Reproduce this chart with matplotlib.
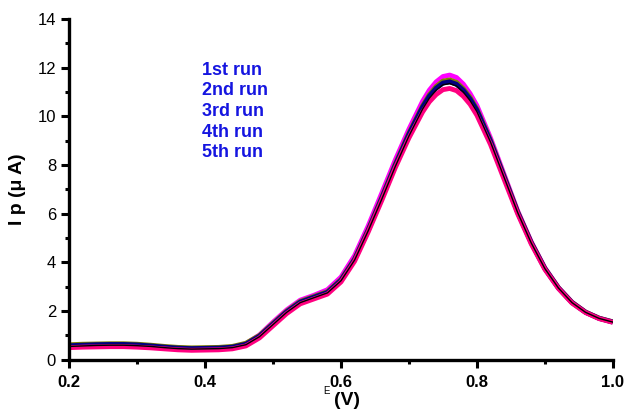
import matplotlib
matplotlib.use('Agg')
import matplotlib.pyplot as plt
from matplotlib.ticker import MultipleLocator

plt.rcParams['font.family'] = ['Liberation Sans', 'DejaVu Sans']

# potential (V), every 0.02 V, every 0.01 V around the peak
potential = [0.20, 0.22, 0.24, 0.26, 0.28, 0.30, 0.32, 0.34, 0.36, 0.38,
             0.40, 0.42, 0.44, 0.46, 0.48, 0.50, 0.52, 0.54, 0.56, 0.58,
             0.60, 0.62, 0.64, 0.66, 0.68, 0.70, 0.72, 0.73, 0.74, 0.75,
             0.76, 0.77, 0.78, 0.79, 0.80, 0.82, 0.84, 0.86, 0.88, 0.90,
             0.92, 0.94, 0.96, 0.98, 1.00]

run1 = [0.55, 0.57, 0.59, 0.60, 0.60, 0.58, 0.55, 0.50, 0.46, 0.44,
        0.45, 0.46, 0.50, 0.62, 0.95, 1.45, 1.95, 2.35, 2.55, 2.75,
        3.25, 4.10, 5.30, 6.60, 7.95, 9.20, 10.30, 10.75, 11.08, 11.30,
        11.35, 11.25, 11.00, 10.65, 10.20, 8.95, 7.50, 6.05, 4.80, 3.75,
        2.95, 2.35, 1.95, 1.70, 1.55]
run2 = [0.62, 0.64, 0.65, 0.66, 0.66, 0.64, 0.60, 0.55, 0.51, 0.49,
        0.50, 0.51, 0.55, 0.68, 1.00, 1.50, 2.00, 2.40, 2.60, 2.80,
        3.30, 4.15, 5.35, 6.68, 8.05, 9.32, 10.43, 10.89, 11.23, 11.45,
        11.50, 11.40, 11.14, 10.78, 10.30, 9.02, 7.55, 6.08, 4.82, 3.76,
        2.96, 2.36, 1.96, 1.71, 1.56]
run3 = [0.58, 0.60, 0.62, 0.63, 0.63, 0.61, 0.57, 0.52, 0.48, 0.46,
        0.47, 0.48, 0.52, 0.64, 0.97, 1.47, 1.97, 2.37, 2.57, 2.77,
        3.27, 4.12, 5.32, 6.64, 8.00, 9.27, 10.38, 10.83, 11.16, 11.37,
        11.42, 11.32, 11.07, 10.71, 10.25, 8.98, 7.52, 6.06, 4.81, 3.75,
        2.95, 2.35, 1.95, 1.70, 1.55]
run4 = [0.56, 0.58, 0.60, 0.61, 0.61, 0.59, 0.56, 0.51, 0.47, 0.45,
        0.46, 0.47, 0.51, 0.66, 1.02, 1.55, 2.05, 2.45, 2.65, 2.88,
        3.40, 4.28, 5.50, 6.85, 8.22, 9.48, 10.62, 11.08, 11.42, 11.64,
        11.70, 11.60, 11.33, 10.94, 10.45, 9.12, 7.62, 6.12, 4.85, 3.78,
        2.97, 2.37, 1.96, 1.71, 1.56]
run5 = [0.50, 0.52, 0.53, 0.54, 0.54, 0.52, 0.49, 0.45, 0.41, 0.39,
        0.40, 0.41, 0.45, 0.57, 0.90, 1.40, 1.90, 2.30, 2.50, 2.70,
        3.20, 4.05, 5.25, 6.55, 7.90, 9.12, 10.18, 10.60, 10.90, 11.10,
        11.15, 11.06, 10.83, 10.50, 10.05, 8.85, 7.42, 6.00, 4.76, 3.72,
        2.93, 2.33, 1.94, 1.69, 1.54]

run_labels = ['1st run', '2nd run', '3rd run', '4th run', '5th run']

fig = plt.figure(figsize=(6.24, 4.15), dpi=100)
ax = fig.add_axes([0.111, 0.133, 0.871, 0.821])

ax.plot(potential, run4, color='#ff00ff', lw=3.5, solid_capstyle='butt')
ax.plot(potential, run2, color='#808000', lw=3.5, solid_capstyle='butt')
ax.plot(potential, run3, color='#000080', lw=3.5, solid_capstyle='butt')
ax.plot(potential, run5, color='#ff0080', lw=3.5, solid_capstyle='butt')
ax.plot(potential, run1, color='black', lw=1.0)

ax.set_xlim(0.2, 1.0)
ax.set_ylim(0, 14)
ax.xaxis.set_minor_locator(MultipleLocator(0.1))
ax.yaxis.set_major_locator(MultipleLocator(2))
ax.yaxis.set_minor_locator(MultipleLocator(1))
ax.set_xticks([0.2, 0.4, 0.6, 0.8, 1.0])
ax.set_xticklabels(['0.2', '0.4', '0.6', '0.8', '1.0'], fontweight='bold')

for s in ['top', 'right']:
    ax.spines[s].set_visible(False)
for s in ['left', 'bottom']:
    ax.spines[s].set_linewidth(2.4)

ax.tick_params(which='major', direction='out', length=6, width=2.2, labelsize=12)
ax.tick_params(which='minor', direction='out', length=3, width=2.2)
ax.tick_params(axis='x', pad=5)

ax.set_ylabel('I p (\u03bc A)', fontsize=14, fontweight='bold', labelpad=8)

# x label: small E followed by (V)
fig.text(0.528, 0.045, 'E', fontsize=7, ha='right', va='bottom')
fig.text(0.535, 0.015, '(V)', fontsize=14, fontweight='bold', ha='left', va='bottom')

for i, lab in enumerate(run_labels):
    ax.text(0.395, 11.9 - i * 0.85, lab, color='#1515e0', fontsize=13,
            fontweight='bold', va='center', ha='left')

fig.savefig('out.png', dpi=100)
